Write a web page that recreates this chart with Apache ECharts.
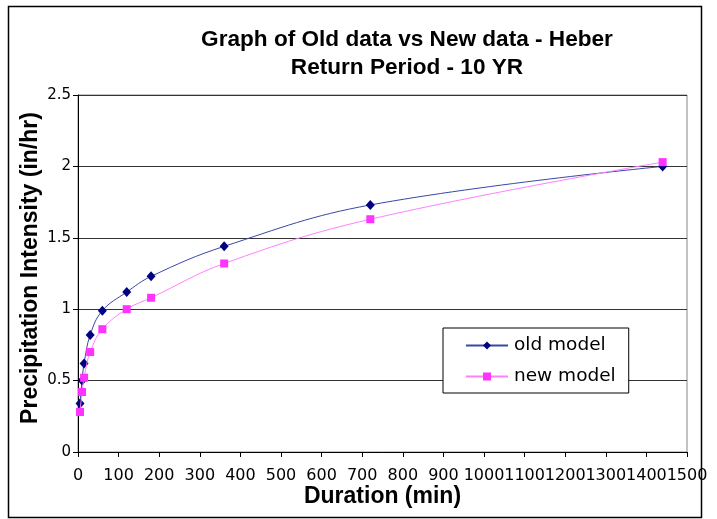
<!DOCTYPE html>
<html>
<head>
<meta charset="utf-8">
<script src="https://cdn.jsdelivr.net/npm/echarts@6/dist/echarts.min.js"></script>
<style>
html,body{margin:0;padding:0;background:#fff;}
#chart{width:717px;height:519px;}
</style>
</head>
<body>
<div id="chart"></div>
<script>
const durations = [5, 10, 15, 30, 60, 120, 180, 360, 720, 1440];
const oldModel = [0.34, 0.50, 0.62, 0.82, 0.99, 1.12, 1.23, 1.44, 1.73, 2.00];
const newModel = [0.28, 0.42, 0.52, 0.70, 0.86, 1.00, 1.08, 1.32, 1.63, 2.03];
const seriesNames = ['old model', 'new model'];
const titleLines = ['Graph of Old data vs New data - Heber', 'Return Period - 10 YR'];
const xTitle = 'Duration (min)';
const yTitle = 'Precipitation Intensity (in/hr)';

const chart = echarts.init(document.getElementById('chart'), null, {renderer: 'canvas'});
const pair = (xs, ys) => xs.map((x, i) => [x, ys[i]]);

chart.setOption({
  animation: false,
  backgroundColor: '#fff',
  title: {
    text: titleLines.join('\n'),
    left: 402,
    top: 21,
    textAlign: 'center',
    textStyle: {fontFamily: 'Liberation Sans', fontWeight: 'bold', fontSize: 22.6, lineHeight: 28, color: '#000'}
  },
  legend: {
    orient: 'vertical',
    left: 443,
    top: 328,
    padding: [8, 13, 7, 22],
    itemGap: 12,
    itemWidth: 42,
    itemHeight: 10,
    backgroundColor: '#fff',
    borderColor: '#000',
    borderWidth: 1,
    textStyle: {fontFamily: 'DejaVu Sans', fontSize: 18.5, color: '#000', padding: [0, 0, 0, 1]},
    data: seriesNames
  },
  grid: {left: 78, top: 95, right: 30, bottom: 67, show: true, borderColor: '#888', borderWidth: 1, containLabel: false},
  xAxis: {
    type: 'value',
    min: 0, max: 1500, interval: 100,
    name: xTitle,
    nameLocation: 'middle',
    nameGap: 33,
    nameMoveOverlap: false,
    nameTextStyle: {fontFamily: 'Liberation Sans', fontWeight: 'bold', fontSize: 23, color: '#000'},
    axisLine: {show: true, onZero: false, lineStyle: {color: '#000', width: 1}},
    axisTick: {show: true, length: 5, lineStyle: {color: '#000'}},
    axisLabel: {fontFamily: 'DejaVu Sans', fontSize: 16, color: '#000', margin: 16,
      showMinLabel: true, showMaxLabel: true, hideOverlap: false,
      formatter: v => String(v)},
    splitLine: {show: false}
  },
  yAxis: {
    type: 'value',
    min: 0, max: 2.5, interval: 0.5,
    name: yTitle,
    nameLocation: 'middle',
    nameGap: 36,
    nameMoveOverlap: false,
    nameTextStyle: {fontFamily: 'Liberation Sans', fontWeight: 'bold', fontSize: 23, color: '#000', padding: [0, 0, 0, 11]},
    axisLine: {show: true, lineStyle: {color: '#000', width: 1}},
    axisTick: {show: true, length: 5, lineStyle: {color: '#000'}},
    axisLabel: {fontFamily: 'DejaVu Sans', fontSize: 15, color: '#000', margin: 7, formatter: v => String(v)},
    splitLine: {show: true, lineStyle: {color: '#333', width: 1.2}}
  },
  series: [
    {
      name: seriesNames[0],
      type: 'line',
      data: pair(durations, oldModel),
      smooth: 0.4,
      symbol: 'diamond',
      symbolSize: [9, 10],
      itemStyle: {color: '#000080'},
      lineStyle: {color: '#3b46a6', width: 1},
      z: 3
    },
    {
      name: seriesNames[1],
      type: 'line',
      data: pair(durations, newModel),
      smooth: 0.4,
      symbol: 'rect',
      symbolSize: 8,
      itemStyle: {color: '#ff33ff'},
      lineStyle: {color: '#ff80ff', width: 1},
      z: 4
    }
  ],
  graphic: [{
    type: 'rect',
    z: 100,
    silent: true,
    shape: {x: 8.5, y: 6.5, width: 693, height: 511},
    style: {fill: 'none', stroke: '#000', lineWidth: 1.5}
  }]
});
</script>
</body>
</html>
